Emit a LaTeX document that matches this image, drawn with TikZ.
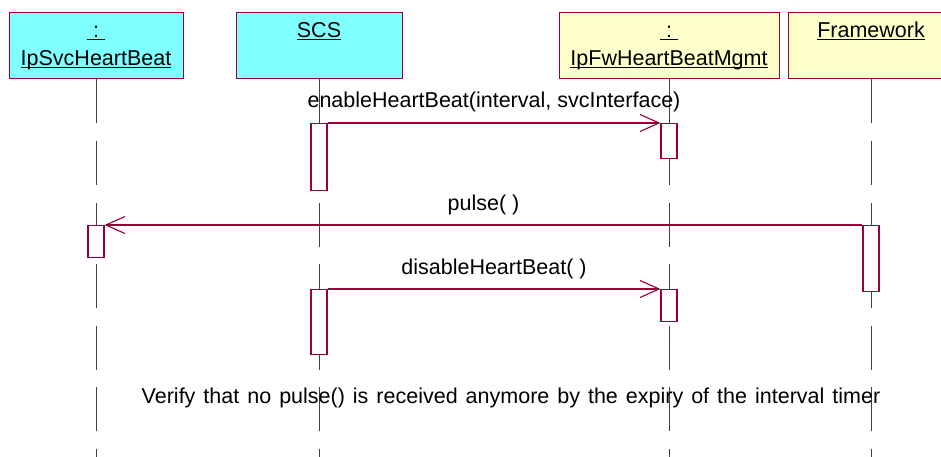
\documentclass[tikz,border=0pt]{standalone}
\usepackage{fontspec}
\setmainfont{Liberation Sans}
\usetikzlibrary{arrows.meta,positioning}
\definecolor{umlred}{RGB}{153,0,51}
\definecolor{headcyan}{RGB}{128,255,255}
\definecolor{headyellow}{RGB}{255,255,204}
\newcommand{\ulname}[1]{\underline{\smash{#1}}}

\begin{document}
\begin{tikzpicture}[x=1pt,y=-1pt,>={Straight Barb[length=19pt,width=17pt]},
  font=\fontsize{21.5}{26}\selectfont,
  head/.style={draw=umlred,line width=1pt,minimum width=#1,minimum height=66pt,inner sep=0pt},
  headtext/.style={anchor=base,inner sep=0pt},
  life/.style={black!75,line width=0.9pt,dash pattern=on 44pt off 17.5pt},
  act/.style={draw=umlred,fill=white,line width=1.1pt,minimum width=16pt,inner sep=0pt,anchor=north},
  msg/.style={->,umlred,line width=1.1pt},
  msglabel/.style={anchor=base,inner sep=0pt,yshift=15pt}]
  \clip (0,0) rectangle (941,457);
  % heads
  \node[head=174pt,fill=headcyan] (svc) at (96,46) {};
  \node[headtext] at ([yshift=-25.5pt]svc.north) {\ulname{~:~}};
  \node[headtext] at ([yshift=-53pt]svc.north) {\ulname{IpSvcHeartBeat}};
  \node[head=166pt,fill=headcyan] (scs) at (319,46) {};
  \node[headtext] at ([yshift=-25.5pt]scs.north) {\ulname{SCS}};
  \node[head=220pt,fill=headyellow] (fwm) at (669,46) {};
  \node[headtext] at ([yshift=-25.5pt]fwm.north) {\ulname{~:~}};
  \node[headtext] at ([yshift=-53pt]fwm.north) {\ulname{IpFwHeartBeatMgmt}};
  \node[head=166pt,fill=headyellow] (fw) at (871,46) {};
  \node[headtext] at ([yshift=-25.5pt]fw.north) {\ulname{Framework}};
  % lifelines
  \foreach \h in {svc,scs,fwm,fw}
    \draw[life] (\h.south) -- ++(0,380);
  % activations
  \node[act,minimum height=67pt] (scsA) at (319,123) {};
  \node[act,minimum height=35pt] (fwmA) at (669,123) {};
  \node[act,minimum height=32pt] (svcA) at (96,225) {};
  \node[act,minimum height=66pt] (fwA) at (871,225) {};
  \node[act,minimum height=65pt] (scsB) at (319,289) {};
  \node[act,minimum height=32pt] (fwmB) at (669,289) {};
  % messages
  \draw[msg] (scsA.north east) -- (fwmA.north west)
    node[msglabel,midway,black] {enableHeartBeat(interval, svcInterface)};
  \draw[msg] (fwA.north west) -- (svcA.north east)
    node[msglabel,midway,black] {pulse( )};
  \draw[msg] (scsB.north east) -- (fwmB.north west)
    node[msglabel,midway,black] {disableHeartBeat( )};
  % note
  \node[anchor=base,inner sep=0pt] (note) at (511,403)
    {\spaceskip=8pt\relax Verify that no pulse() is received anymore by the expiry of the interval timer};
\end{tikzpicture}
\end{document}
